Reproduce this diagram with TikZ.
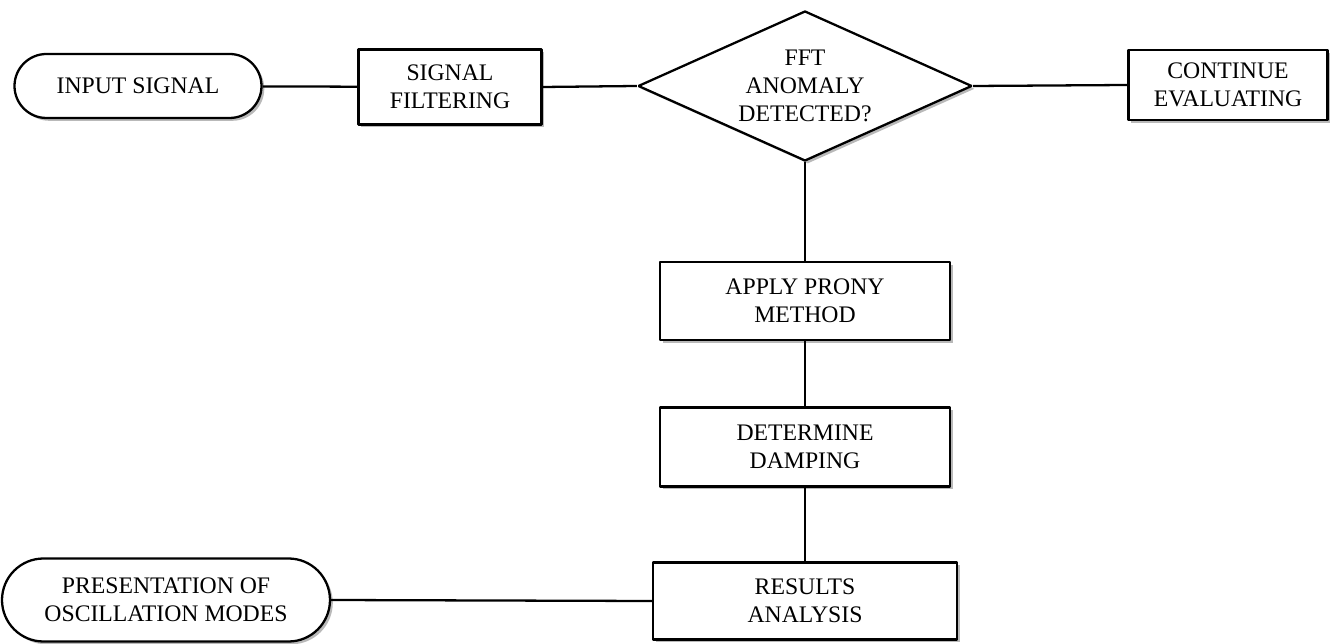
\documentclass[tikz,border=0pt]{standalone}
\usepackage{fontspec}
\setmainfont{Liberation Serif}
\usetikzlibrary{shapes,shadows}

\begin{document}
\begin{tikzpicture}[x=0.02cm,y=-0.02cm,line join=bevel,
  every node/.style={font=\fontsize{13.5}{16}\selectfont,align=center,inner sep=0pt},
  boxnode/.style={draw,line width=1.3pt,fill=white,rectangle,
    drop shadow={shadow xshift=1.6pt,shadow yshift=-1.6pt,opacity=0.55}},
  endnode/.style={boxnode,rounded rectangle},
  asknode/.style={boxnode,diamond,aspect=2.2},
  link/.style={line width=1.3pt}]

\useasboundingbox (0,0) rectangle (1337,644);

% Node: INPUT
\node [endnode,minimum width=247*0.02cm,minimum height=64*0.02cm] (input) at (138,86) {INPUT SIGNAL};

% Node: FILTER
\node [boxnode,minimum width=183*0.02cm,minimum height=75*0.02cm] (filter) at (450,87) {SIGNAL\\FILTERING};

% Node: FFT
\node [asknode,minimum width=334*0.02cm,minimum height=150*0.02cm] (fft) at (805,86) {FFT\\ANOMALY\\DETECTED?};

% Node: CONTINUE
\node [boxnode,minimum width=199*0.02cm,minimum height=70*0.02cm] (cont) at (1228,85) {CONTINUE\\EVALUATING};

% Node: PRONY
\node [boxnode,minimum width=290*0.02cm,minimum height=78*0.02cm] (prony) at (805,301) {APPLY PRONY\\METHOD};

% Node: DAMPING
\node [boxnode,minimum width=290*0.02cm,minimum height=79*0.02cm] (damp) at (805,447) {DETERMINE\\DAMPING};

% Node: RESULTS
\node [boxnode,minimum width=304*0.02cm,minimum height=77*0.02cm] (result) at (805,601) {RESULTS\\ANALYSIS};

% Node: MODES
\node [endnode,minimum width=328*0.02cm,minimum height=83*0.02cm] (modes) at (166,600) {PRESENTATION OF\\OSCILLATION MODES};

% Edges
\draw [link] (input) -- (filter);
\draw [link] (filter.east) -- (fft.west);
\draw [link] (fft.east) -- (cont.west);
\draw [link] (fft.south) -- (prony.north);
\draw [link] (prony) -- (damp);
\draw [link] (damp) -- (result);
\draw [link] (modes.east) -- (result.west);

\end{tikzpicture}
\end{document}
